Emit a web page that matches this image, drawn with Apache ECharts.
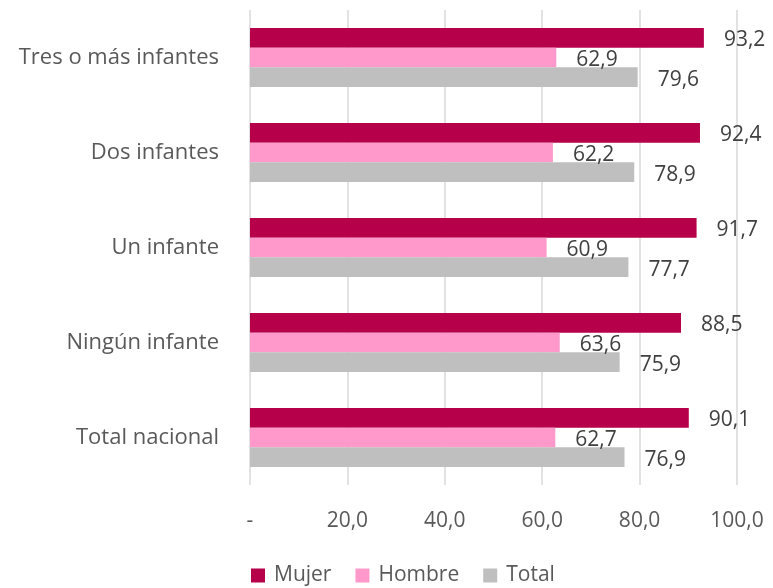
<!DOCTYPE html>
<html><head><meta charset="utf-8">
<script src="https://cdn.jsdelivr.net/npm/echarts@6/dist/echarts.min.js"></script>
<style>html,body{margin:0;padding:0;background:#fff}#c{width:773px;height:588px}</style>
</head><body><div id="c"></div>
<script>
const categories = ['Total nacional','Ningún infante','Un infante','Dos infantes','Tres o más infantes'];
const mujer = [90.1, 88.5, 91.7, 92.4, 93.2];
const hombre = [62.7, 63.6, 60.9, 62.2, 62.9];
const total = [76.9, 75.9, 77.7, 78.9, 79.6];
const xTicks = ['-', '20,0', '40,0', '60,0', '80,0', '100,0'];
const font = '"Open Sans", "Noto Sans", sans-serif';
const fmt = v => v.toFixed(1).replace('.', ',');
function mk(name, data, color, dy) {
  return {
    name, type: 'bar', data, barGap: '0%', barCategoryGap: '38%',
    itemStyle: { color },
    label: { show: true, position: 'right', distance: 20, offset: [0, dy],
      color: '#404040', fontSize: 21, fontFamily: font,
      formatter: p => fmt(p.value) }
  };
}
const chart = echarts.init(document.getElementById('c'));
chart.setOption({
  animation: false,
  grid: { left: 250, right: 36, top: 10, bottom: 103, containLabel: false },
  legend: { top: 560, left: 246, itemWidth: 14, itemHeight: 14, itemGap: 24, icon: 'rect',
    textStyle: { color: '#595959', fontSize: 21, fontFamily: font, padding: [0, 0, 0, 4] },
    data: ['Mujer','Hombre','Total'] },
  xAxis: { type: 'value', min: 0, max: 100, interval: 20,
    axisLine: { show: false }, axisTick: { show: false },
    splitLine: { lineStyle: { color: '#D9D9D9', width: 1.5 } },
    axisLabel: { color: '#595959', fontSize: 21, fontFamily: font, margin: 26,
      formatter: (v) => xTicks[Math.round(v / 20)] } },
  yAxis: { type: 'category', data: categories,
    axisLine: { show: false }, axisTick: { show: false },
    axisLabel: { color: '#595959', fontSize: 22, fontFamily: font, margin: 31 } },
  series: [
    mk('Mujer', mujer, '#B7004A', 2),
    mk('Hombre', hombre, '#FF99CC', 3),
    mk('Total', total, '#BFBFBF', 3)
  ]
});
</script></body></html>
